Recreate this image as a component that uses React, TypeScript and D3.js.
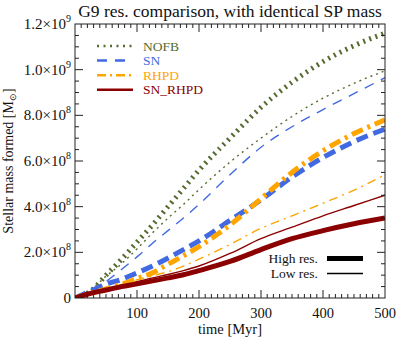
import React, { useEffect, useRef } from "react";
import * as d3 from "d3";

// time grid [Myr]
const times = [0, 25, 50, 75, 100, 125, 150, 175, 200, 250, 300, 350, 400, 450, 500];

// stellar mass formed, units of 1e8 Msun
const nofbHigh = [0, 0.3, 1.0, 1.7, 2.45, 3.2, 4.0, 4.8, 5.6, 7.0, 8.35, 9.45, 10.35, 11.05, 11.6];
const nofbLow = [0, 0.35, 0.95, 1.5, 2.15, 2.85, 3.5, 4.1, 4.75, 5.95, 7.0, 7.95, 8.75, 9.4, 9.95];
const snHigh = [0, 0.3, 0.6, 0.82, 1.1, 1.4, 1.75, 2.12, 2.5, 3.4, 4.3, 5.3, 6.15, 6.85, 7.4];
const snLow = [0, 0.3, 0.72, 1.25, 1.8, 2.4, 2.95, 3.5, 4.1, 5.4, 6.6, 7.5, 8.25, 8.95, 9.65];
const rhpdHigh = [0, 0.2, 0.4, 0.6, 0.85, 1.1, 1.48, 1.85, 2.25, 3.2, 4.35, 5.5, 6.45, 7.2, 7.8];
const rhpdLow = [0, 0.2, 0.4, 0.6, 0.8, 0.97, 1.15, 1.4, 1.7, 2.35, 3.05, 3.6, 4.15, 4.72, 5.4];
const snrhpdHigh = [0, 0.2, 0.35, 0.5, 0.62, 0.75, 0.88, 1.02, 1.2, 1.6, 2.12, 2.6, 2.95, 3.25, 3.5];
const snrhpdLow = [0, 0.2, 0.38, 0.55, 0.72, 0.88, 1.03, 1.2, 1.4, 1.95, 2.6, 3.1, 3.6, 4.05, 4.5];

const names = ["NOFB", "SN", "RHPD", "SN_RHPD"];
const colors = ["#566b2f", "#4169e1", "#ffa500", "#8b0000"];
const dashesThick = ["2,4.5", "12,6", "12,5,3,5", null];
const dashesThin = ["2,4", "10,8", "9,5,2,5", null];
const dashesKey = ["2,4.5", "10,8", "9,4,2,4", null];
const highSeries = [nofbHigh, snHigh, rhpdHigh, snrhpdHigh];
const lowSeries = [nofbLow, snLow, rhpdLow, snrhpdLow];

const yMajor = [0, 2, 4, 6, 8, 10, 12];
const yLabels = ["0", "2.0", "4.0", "6.0", "8.0", "1.0", "1.2"];
const yExp = ["", "8", "8", "8", "8", "9", "9"];
const xMajor = [100, 200, 300, 400, 500];

const App = () => {
  const svgRef = useRef<SVGSVGElement>(null);

  useEffect(() => {
    const W = 407, H = 346;
    const L = 75, R = 385, T = 24, B = 298;
    const font = "'Liberation Serif', 'Times New Roman', serif";
    const svg = d3.select(svgRef.current).attr("width", W).attr("height", H);
    svg.selectAll("*").remove();

    const x = d3.scaleLinear().domain([0, 500]).range([L, R]);
    const y = d3.scaleLinear().domain([0, 12]).range([B, T]);

    svg.append("rect").attr("width", W).attr("height", H).attr("fill", "#fff");

    // curves
    const line = d3.line<number>()
      .x((d, i) => x(times[i]))
      .y(d => y(d))
      .curve(d3.curveMonotoneX);

    const clip = svg.append("clipPath").attr("id", "pc");
    clip.append("rect").attr("x", L).attr("y", T).attr("width", R - L).attr("height", B - T);
    const g = svg.append("g").attr("clip-path", "url(#pc)");

    lowSeries.forEach((s, k) => {
      g.append("path").attr("d", line(s)).attr("fill", "none")
        .attr("stroke", colors[k]).attr("stroke-width", 1.4)
        .attr("stroke-dasharray", dashesThin[k]);
    });
    highSeries.forEach((s, k) => {
      g.append("path").attr("d", line(s)).attr("fill", "none")
        .attr("stroke", colors[k]).attr("stroke-width", 5)
        .attr("stroke-dasharray", dashesThick[k]);
    });

    // frame
    svg.append("rect").attr("x", L).attr("y", T).attr("width", R - L).attr("height", B - T)
      .attr("fill", "none").attr("stroke", "#222").attr("stroke-width", 1);

    const ticks = svg.append("g").attr("stroke", "#222").attr("stroke-width", 1);
    // x ticks, every 10 Myr, major every 100
    d3.range(10, 500, 10).forEach(t => {
      const len = t % 100 === 0 ? 8 : 4;
      ticks.append("line").attr("x1", x(t)).attr("x2", x(t)).attr("y1", B).attr("y2", B - len);
      ticks.append("line").attr("x1", x(t)).attr("x2", x(t)).attr("y1", T).attr("y2", T + len);
    });
    // y ticks, every 0.5e8, major every 2e8
    d3.range(0.5, 12, 0.5).forEach(v => {
      const len = v % 2 === 0 ? 8 : 4;
      ticks.append("line").attr("x1", L).attr("x2", L + len).attr("y1", y(v)).attr("y2", y(v));
      ticks.append("line").attr("x1", R).attr("x2", R - len).attr("y1", y(v)).attr("y2", y(v));
    });

    // x labels
    xMajor.forEach(t => {
      svg.append("text").attr("x", x(t)).attr("y", B + 20).attr("text-anchor", "middle")
        .attr("font-family", font).attr("font-size", 14.5).attr("fill", "#111").text(t);
    });
    svg.append("text").attr("x", x(250)).attr("y", B + 36).attr("text-anchor", "middle")
      .attr("font-family", font).attr("font-size", 14.5).attr("fill", "#111").text("time [Myr]");

    // y labels
    yMajor.forEach((v, i) => {
      const t = svg.append("text").attr("x", 71).attr("y", y(v) + 5).attr("text-anchor", "end")
        .attr("font-family", font).attr("font-size", 15).attr("fill", "#111");
      if (yExp[i] === "") {
        t.text(yLabels[i]);
      } else {
        t.append("tspan").text(`${yLabels[i]}\u00d710`);
        t.append("tspan").attr("font-size", 10).attr("dy", -7).text(yExp[i]);
      }
    });
    const yl = svg.append("text")
      .attr("transform", `translate(13, ${(T + B) / 2}) rotate(-90)`)
      .attr("text-anchor", "middle").attr("font-family", font).attr("font-size", 14).attr("fill", "#111");
    yl.append("tspan").text("Stellar mass formed [M");
    yl.append("tspan").attr("font-size", 9).attr("dy", 3).text("\u2299");
    yl.append("tspan").attr("dy", -3).text("]");

    // title
    svg.append("text").attr("x", (L + R) / 2).attr("y", 17).attr("text-anchor", "middle")
      .attr("font-family", font).attr("font-size", 17.5).attr("fill", "#111")
      .text("G9 res. comparison, with identical SP mass");

    // legend of models
    names.forEach((n, k) => {
      const ly = 46 + k * 14.6;
      svg.append("line").attr("x1", 97).attr("x2", 133).attr("y1", ly).attr("y2", ly)
        .attr("stroke", colors[k]).attr("stroke-width", 2.5)
        .attr("stroke-dasharray", dashesKey[k]);
      svg.append("text").attr("x", 143).attr("y", ly + 4.5).attr("font-family", font)
        .attr("font-size", 13.5).attr("fill", colors[k]).text(n);
    });

    // legend of resolutions
    const res = [["High res.", 5], ["Low res.", 1.4]];
    res.forEach(([lab, w], k) => {
      const ly = 258.5 + k * 15;
      svg.append("text").attr("x", 318).attr("y", ly + 4.5).attr("text-anchor", "end")
        .attr("font-family", font).attr("font-size", 13.5).attr("fill", "#111").text(lab as string);
      svg.append("line").attr("x1", 327).attr("x2", 363).attr("y1", ly).attr("y2", ly)
        .attr("stroke", "#000").attr("stroke-width", w as number);
    });
  }, []);

  return <svg ref={svgRef} style={{ position: "absolute", left: 0, top: 0 }} />;
};

export default App;
